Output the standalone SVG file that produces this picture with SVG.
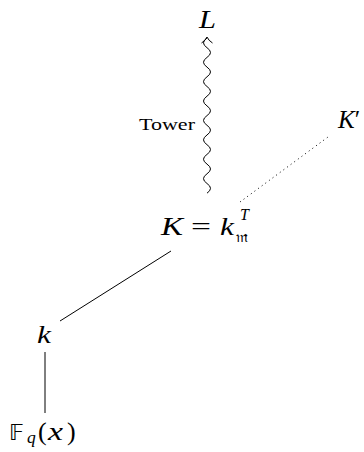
<svg xmlns="http://www.w3.org/2000/svg" width="364" height="452" viewBox="0 0 364 452">
<style>
.m{font-family:"Liberation Serif","DejaVu Serif",serif;font-style:italic;font-weight:normal;fill:#000}
.r{font-family:"Liberation Serif","DejaVu Serif",serif;font-weight:normal;fill:#000}
.s{font-family:"DejaVu Sans","DejaVu Serif",serif;fill:#000}
.ln{fill:none;stroke:#000;stroke-width:1}
</style>
<rect width="364" height="452" fill="#fff"/>
<g id="connectors">
<path class="ln" d="M207,38 q-7,4.85 0,9.7 t0,9.7 t0,9.7 t0,9.7 t0,9.7 t0,9.7 t0,9.7 t0,9.7 t0,9.7 t0,9.7 t0,9.7 t0,9.7 t0,9.7 t0,9.7 t0,9.7 t0,9.7"/>
<path class="ln" d="M201.5,43 Q205.5,40.5 207,37 Q208.5,40.5 212.5,43"/>
<text class="r" x="139" y="130" font-size="16" textLength="56" lengthAdjust="spacingAndGlyphs">Tower</text>
<path class="ln" d="M240,202 L328,137" stroke-dasharray="1 3.5"/>
<path class="ln" d="M60,321 L171,251"/>
<path class="ln" d="M45,352 V413"/>
</g>
<g id="node-L">
<text class="m" x="199" y="28" font-size="25" textLength="17" lengthAdjust="spacingAndGlyphs">L</text>
</g>
<g id="node-Kprime">
<text class="m" x="338" y="128" font-size="25">K<tspan class="r" font-style="normal">′</tspan></text>
</g>
<g id="node-K">
<text class="m" x="161" y="235" font-size="25" textLength="22" lengthAdjust="spacingAndGlyphs">K</text>
<text class="r" x="191" y="235" font-size="25" textLength="20" lengthAdjust="spacingAndGlyphs">=</text>
<text class="m" x="220" y="235" font-size="25" textLength="14" lengthAdjust="spacingAndGlyphs">k</text>
<text class="m" x="240" y="220" font-size="16">T</text>
<text class="s" x="236" y="242" font-size="16">𝔪</text>
</g>
<g id="node-k">
<text class="m" x="37" y="343" font-size="25" textLength="14" lengthAdjust="spacingAndGlyphs">k</text>
</g>
<g id="node-Fq">
<text class="s" x="9" y="440" font-size="22">𝔽</text>
<text class="m" x="27" y="443" font-size="17.5">q</text>
<text class="r" x="38" y="440" font-size="26">(</text>
<text class="m" x="48" y="440" font-size="25" textLength="15" lengthAdjust="spacingAndGlyphs">x</text>
<text class="r" x="67" y="440" font-size="26">)</text>
</g>
</svg>
